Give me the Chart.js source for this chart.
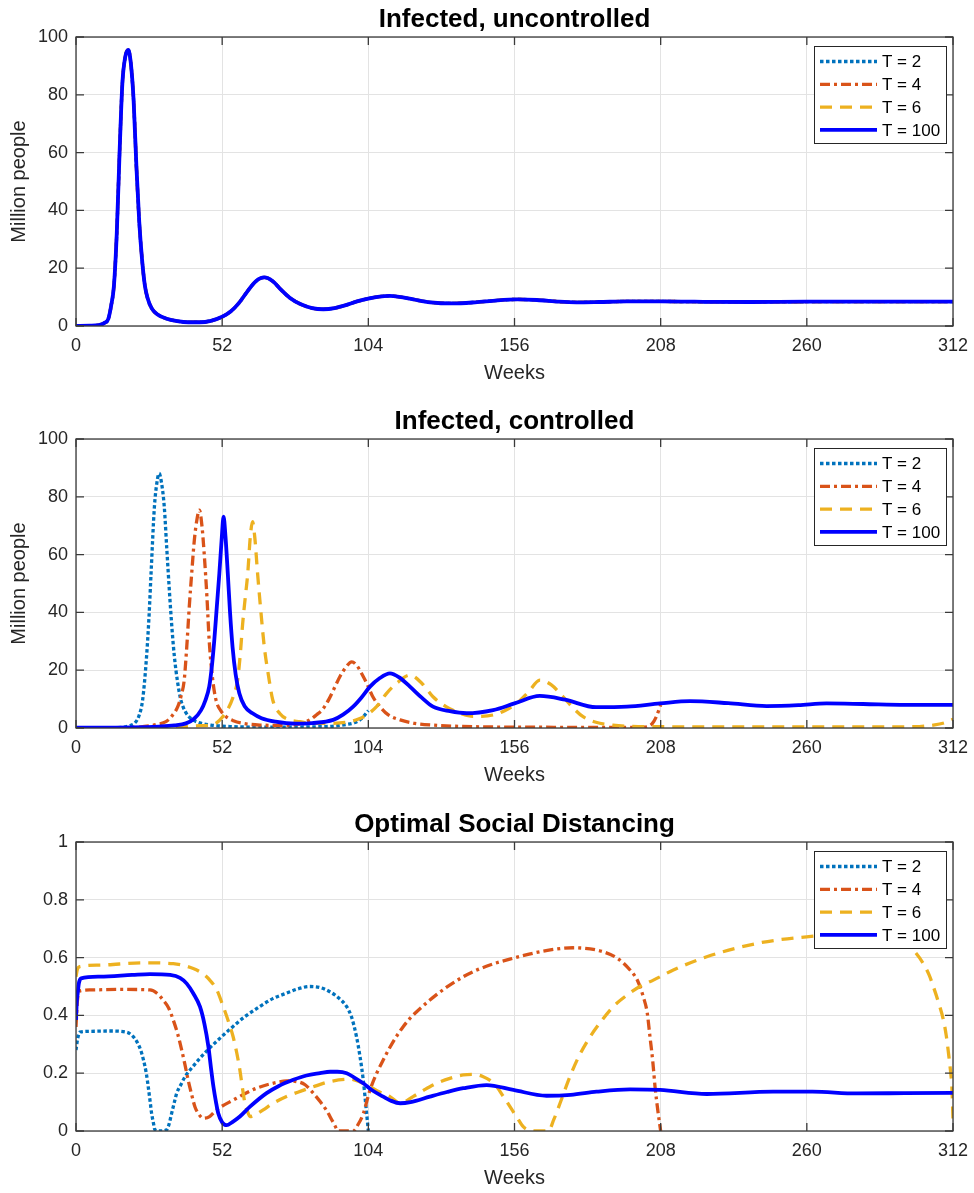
<!DOCTYPE html>
<html>
<head>
<meta charset="utf-8">
<title>Infected and optimal social distancing</title>
<script src="https://cdn.jsdelivr.net/npm/chart.js@4.4.0/dist/chart.umd.min.js"></script>
<style>
  body { margin: 0; background: #fff; }
  canvas { position: absolute; left: 0; }
</style>
</head>
<body>
<canvas id="c1" width="974" height="402" style="top:0px"></canvas>
<canvas id="c2" width="974" height="402" style="top:402px"></canvas>
<canvas id="c3" width="974" height="389" style="top:804px"></canvas>
<script>
// ---- data ----
var seriesLabels = ["T = 2", "T = 4", "T = 6", "T = 100"];
var weekTicks = [0, 52, 104, 156, 208, 260, 312];
var infectedTicks = [0, 20, 40, 60, 80, 100];
var distancingTicks = [0, 0.2, 0.4, 0.6, 0.8, 1];

// uncontrolled epidemic (identical for every T)
var uncWeeks = [0, 5, 8, 10, 11.5, 12.5, 13.5, 14.5, 15.5, 16.5, 17.5, 18.6, 19.5, 20.5, 21.5, 22.5, 23.5, 24.5, 25.5, 27,
  29, 32, 36, 40, 44, 48, 52, 55, 58, 61, 64, 67, 70, 73, 76, 80, 84, 88, 92, 96,
  100, 104, 108, 111.5, 115, 120, 126, 134, 142, 150, 157, 164, 172, 178, 186, 196, 208, 220, 240, 260, 280, 312];
var uncInfected = [0.05, 0.1, 0.3, 1, 2.5, 7, 14, 32, 60, 84, 93, 95.5, 91, 78, 55, 36, 23, 14, 9.5, 6,
  4, 2.6, 1.7, 1.3, 1.3, 1.8, 3.2, 5, 8, 12, 15.5, 16.8, 15.5, 12.5, 9.8, 7.5, 6.2, 5.8, 6.2, 7.2,
  8.5, 9.5, 10.2, 10.4, 10.1, 9.2, 8.2, 7.8, 8.2, 8.9, 9.2, 9.0, 8.4, 8.2, 8.3, 8.5, 8.5, 8.4, 8.3, 8.4, 8.4, 8.4];

// controlled epidemic
var t2Weeks = [0, 10, 16.5, 19, 21, 22.5, 23.7, 25.1, 26, 26.7, 27.9, 28.8, 29.6, 30.4, 31.4, 32.3, 33.2, 34.1, 35, 36.2,
  37.3, 39, 41, 44, 48, 55, 70, 85, 92, 96, 99, 101.5, 104];
var t2Infected = [0, 0.05, 0.2, 0.8, 1.8, 4.5, 9.7, 24.7, 39, 53.5, 76.6, 85, 88.1, 85, 76.6, 62, 47.8, 35, 24.7, 15.5,
  9.7, 5.5, 3.2, 1.8, 1, 0.5, 0.3, 0.4, 0.7, 1.2, 1.8, 3.2, 6];

var t4Weeks = [0, 15, 22, 26, 29, 32, 34, 36.2, 37.5, 38.5, 39.4, 40.3, 41.2, 42.1, 43, 43.9, 44.8, 45.7, 46.6, 47.4,
  48.6, 49.8, 51.5, 53.4, 56, 59.3, 66, 72, 76, 79, 81, 83.2, 85.5, 87.8, 90, 92, 94, 96, 98.1, 100,
  101.8, 103.4, 105.5, 108.1, 111, 115.3, 120, 127, 135, 148, 170, 200, 203, 205, 206.5, 208];
var t4Infected = [0, 0.05, 0.3, 0.7, 1.3, 2.2, 4, 7.4, 11.5, 16.6, 28, 42, 54, 65, 72, 75.4, 70, 59, 45, 30,
  17, 9.7, 6, 3.9, 2.5, 1.6, 1, 0.9, 1, 1.3, 1.9, 2.8, 4.5, 6.5, 10, 14, 18, 21, 22.9, 21.5,
  18.5, 15.5, 11, 7.4, 4.6, 2.8, 1.7, 1, 0.6, 0.35, 0.25, 0.2, 0.4, 1.5, 4, 8];

var t6Weeks = [0, 30, 39, 44, 47.4, 50, 52.2, 54, 55.8, 57.5, 58.4, 59.3, 60.2, 61.1, 62, 62.8, 63.6, 64.6, 65.8, 67,
  68.5, 70, 72.5, 75.9, 79.7, 84, 90, 97.5, 100.5, 103.4, 107, 110.5, 114.5, 118.8, 123, 127, 131.5, 136.6, 141.3, 148.4,
  152.5, 156.8, 161, 165, 169, 173.3, 177, 180.4, 185, 191, 200, 230, 260, 290, 300, 305, 309, 312];
var t6Infected = [0, 0, 0.5, 0.8, 1, 1.8, 3.9, 6.5, 10.5, 16.6, 25, 36.2, 45, 53.5, 66, 71.4, 66, 53.5, 40, 28,
  18, 9.7, 5, 2.8, 2.2, 1.6, 1.6, 2.2, 3.1, 4.5, 7.5, 12, 15.8, 18.3, 15.5, 10.8, 7.5, 5.1, 4, 4.5,
  6, 8.5, 12.5, 16.6, 15, 10.8, 6.8, 3.9, 2, 1, 0.5, 0.4, 0.4, 0.4, 0.5, 1, 1.8, 3];

var t100Weeks = [0, 20, 29.6, 35, 39.1, 42, 44.5, 46, 47.4, 48.3, 49.2, 50.1, 51, 51.8, 52.5, 53.2, 54, 54.8, 55.7, 56.8,
  58.1, 60, 62.8, 66, 71, 78, 84, 91.5, 95, 98.6, 101.5, 104.6, 108, 111.7, 115, 118.8, 123, 127, 133, 139,
  148.4, 156, 165, 174, 185, 196, 207.8, 218.4, 232, 245.7, 257, 267, 280, 295, 312];
var t100Infected = [0.1, 0.2, 0.5, 0.9, 1.6, 3.2, 6.2, 9.5, 14.3, 21, 30.4, 42, 53.5, 65, 73.1, 66, 53.5, 40, 28, 18.5,
  12, 7.5, 5.1, 3.4, 2.2, 1.5, 1.7, 2.8, 4.6, 7.4, 10.5, 14.3, 17.2, 18.9, 17.5, 14.3, 10.5, 7.4, 5.8, 5.1,
  6.2, 8.5, 11.1, 9.8, 7.2, 7.4, 8.5, 9.3, 8.6, 7.6, 7.9, 8.5, 8.3, 8.0, 8.0];

// optimal social distancing
var d2Weeks = [0, 0.6, 1.4, 5, 12, 18, 20, 21.6, 23, 24, 25, 25.7, 26.4, 26.9, 27.5, 28.1, 30, 32.2, 33, 34,
  35, 35.8, 37.3, 38.8, 41.5, 44.1, 47, 50, 55.9, 60, 65.4, 70, 74.9, 79, 83.2, 87, 90.3, 93.5, 96.3, 98,
  99.8, 101, 102.2, 103.2, 104];
var d2Control = [0.28, 0.32, 0.342, 0.345, 0.346, 0.342, 0.33, 0.31, 0.28, 0.246, 0.2, 0.153, 0.1, 0.061, 0.03, 0.004, 0, 0.004, 0.02, 0.06,
  0.1, 0.13, 0.16, 0.188, 0.222, 0.252, 0.282, 0.31, 0.362, 0.395, 0.431, 0.458, 0.477, 0.492, 0.5, 0.496, 0.482, 0.46, 0.43, 0.395,
  0.326, 0.26, 0.176, 0.08, 0];

var d4Weeks = [0, 0.5, 1.5, 5, 15, 26.3, 29, 31, 33, 34.6, 36.2, 37.6, 38.8, 39.9, 41.1, 42.3, 43.7, 45.3, 47.5, 50,
  55.9, 64.2, 71.3, 75, 78.5, 81.5, 84.4, 87, 89.2, 91.5, 93.5, 98.6, 100.5, 102.2, 104.6, 109.3, 116.4, 125.9, 137.8, 146,
  155.6, 166, 176.9, 187.6, 193, 197.1, 199.8, 201.8, 203.2, 204.2, 205.2, 206, 207, 208];
var d4Control = [0.36, 0.45, 0.485, 0.488, 0.49, 0.488, 0.475, 0.453, 0.425, 0.384, 0.335, 0.28, 0.228, 0.176, 0.128, 0.084, 0.058, 0.044, 0.05, 0.073,
  0.107, 0.148, 0.168, 0.173, 0.171, 0.16, 0.131, 0.1, 0.07, 0.03, 0, 0, 0.025, 0.06, 0.142, 0.246, 0.361, 0.453, 0.534, 0.57,
  0.598, 0.622, 0.634, 0.62, 0.595, 0.557, 0.52, 0.465, 0.41, 0.326, 0.24, 0.153, 0.07, 0];

var d6Weeks = [0, 0.5, 1.4, 8.5, 24, 34.6, 41.7, 45, 47.6, 50, 52.4, 54.2, 55.9, 57.2, 58.3, 59.2, 60.1, 61, 61.9, 63.5,
  66.6, 70, 74.9, 80, 84.4, 90.3, 97.5, 101, 104.6, 108, 111.7, 115.3, 119.9, 124, 128.3, 133, 137.8, 141.5, 144.9, 147.5,
  149.7, 152, 154.4, 156.8, 159.1, 161, 163.9, 168, 170, 172.2, 175.7, 179, 182.9, 187, 191.1, 196, 200.6, 205.4, 212.5, 224.4,
  242.2, 259.9, 275, 287, 294.3, 298, 301.4, 303.5, 305, 307, 308.6, 309.6, 310.4, 311.2, 311.6, 312];
var d6Control = [0.534, 0.56, 0.569, 0.574, 0.582, 0.579, 0.562, 0.545, 0.522, 0.49, 0.43, 0.38, 0.326, 0.27, 0.211, 0.15, 0.096, 0.068, 0.05, 0.055,
  0.073, 0.095, 0.119, 0.138, 0.153, 0.171, 0.179, 0.17, 0.153, 0.135, 0.119, 0.096, 0.119, 0.143, 0.165, 0.182, 0.194, 0.196, 0.188, 0.174,
  0.153, 0.12, 0.084, 0.048, 0.015, 0.003, 0, 0, 0.04, 0.096, 0.188, 0.26, 0.326, 0.382, 0.43, 0.47, 0.5, 0.522, 0.557, 0.603,
  0.649, 0.672, 0.68, 0.675, 0.655, 0.625, 0.58, 0.54, 0.5, 0.44, 0.384, 0.33, 0.269, 0.2, 0.153, 0.04];

var d100Weeks = [0, 0.3, 0.6, 1, 1.8, 8.5, 20, 26.3, 33.5, 37, 39.4, 41.8, 44.1, 45.7, 47.1, 48, 48.9, 49.8, 50.6, 52,
  53.6, 55.5, 58.3, 62, 67.8, 72, 77.3, 82, 86.8, 90.4, 93, 96.3, 99, 102.2, 105.5, 109.3, 112, 115.3, 119, 125.9,
  132, 137.8, 146.1, 155.6, 167.4, 176, 185.2, 197.1, 207.8, 224.4, 248, 262, 277.7, 295, 312];
var d100Control = [0.384, 0.45, 0.476, 0.51, 0.528, 0.534, 0.54, 0.543, 0.54, 0.53, 0.51, 0.475, 0.43, 0.37, 0.292, 0.22, 0.153, 0.1, 0.061, 0.03,
  0.02, 0.03, 0.05, 0.085, 0.131, 0.155, 0.177, 0.192, 0.2, 0.205, 0.205, 0.2, 0.185, 0.165, 0.14, 0.119, 0.105, 0.096, 0.1, 0.119,
  0.135, 0.148, 0.159, 0.142, 0.122, 0.125, 0.136, 0.144, 0.142, 0.128, 0.136, 0.136, 0.13, 0.131, 0.132];

// ---- styling ----
var FONT = '"Liberation Sans", Arial, Helvetica, sans-serif';
Chart.defaults.font.family = FONT;
Chart.defaults.color = '#262626';

var lineStyles = [
  { color: '#0072BD', width: 3.3, dash: [3.5, 2.5] },
  { color: '#D95319', width: 3.3, dash: [10, 4, 3, 4] },
  { color: '#EDB120', width: 3.3, dash: [12, 8] },
  { color: '#0000FF', width: 3.8, dash: [] }
];

function pts(weeks, vals) {
  return weeks.map(function (w, i) { return { x: w, y: vals[i] }; });
}

function makeDatasets(pairs) {
  return pairs.map(function (p, i) {
    var s = lineStyles[i];
    return {
      label: seriesLabels[i],
      data: pts(p[0], p[1]),
      borderColor: s.color,
      borderWidth: s.width,
      borderDash: s.dash,
      pointRadius: 0,
      fill: false,
      cubicInterpolationMode: 'monotone',
      order: pairs.length - 1 - i   // T = 100 drawn on top
    };
  });
}

// axes box with inward ticks, like the original figure
var axesBox = {
  id: 'axesBox',
  afterDatasetsDraw: function (chart) {
    var a = chart.chartArea, ctx = chart.ctx;
    var xs = chart.scales.x, ys = chart.scales.y;
    var L = 8;
    ctx.save();
    ctx.strokeStyle = '#3a3a3a';
    ctx.lineWidth = 1.3;
    ctx.beginPath();
    xs.ticks.forEach(function (t) {
      var px = xs.getPixelForValue(t.value);
      ctx.moveTo(px, a.bottom); ctx.lineTo(px, a.bottom - L);
      ctx.moveTo(px, a.top); ctx.lineTo(px, a.top + L);
    });
    ys.ticks.forEach(function (t) {
      var py = ys.getPixelForValue(t.value);
      ctx.moveTo(a.left, py); ctx.lineTo(a.left + L, py);
      ctx.moveTo(a.right, py); ctx.lineTo(a.right - L, py);
    });
    ctx.stroke();
    ctx.strokeRect(a.left, a.top, a.right - a.left, a.bottom - a.top);
    ctx.restore();
  }
};

// boxed legend inside the top-right corner of the axes
var boxLegend = {
  id: 'boxLegend',
  afterDraw: function (chart) {
    var a = chart.chartArea, ctx = chart.ctx;
    var w = 133, h = 98;
    var x0 = a.right - 6 - w, y0 = a.top + 9;
    ctx.save();
    ctx.fillStyle = '#fff';
    ctx.fillRect(x0, y0, w, h);
    ctx.strokeStyle = '#262626';
    ctx.lineWidth = 1;
    ctx.strokeRect(x0 + 0.5, y0 + 0.5, w - 1, h - 1);
    chart.data.datasets.forEach(function (ds, i) {
      var cy = y0 + 15.5 + i * 22.8;
      ctx.beginPath();
      ctx.setLineDash(ds.borderDash);
      ctx.strokeStyle = ds.borderColor;
      ctx.lineWidth = ds.borderWidth;
      ctx.moveTo(x0 + 6, cy);
      ctx.lineTo(x0 + 63, cy);
      ctx.stroke();
      ctx.setLineDash([]);
      ctx.fillStyle = '#000';
      ctx.font = '17px ' + FONT;
      ctx.textBaseline = 'middle';
      ctx.textAlign = 'left';
      ctx.fillText(ds.label, x0 + 68, cy + 1);
    });
    ctx.restore();
  }
};

// bold title centred over the axes
var panelTitle = {
  id: 'panelTitle',
  afterDraw: function (chart, args, opts) {
    var a = chart.chartArea, ctx = chart.ctx;
    ctx.save();
    ctx.font = 'bold 26px ' + FONT;
    ctx.fillStyle = '#000';
    ctx.textAlign = 'center';
    ctx.textBaseline = 'alphabetic';
    ctx.fillText(opts.text, (a.left + a.right) / 2, a.top - 10);
    ctx.restore();
  }
};

function makeChart(id, title, datasets, yTicks, yLabel, pad) {
  return new Chart(document.getElementById(id), {
    type: 'line',
    data: { datasets: datasets },
    options: {
      responsive: false,
      animation: false,
      layout: { padding: pad },
      plugins: {
        legend: { display: false },
        tooltip: { enabled: false },
        panelTitle: { text: title }
      },
      scales: {
        x: {
          type: 'linear',
          min: 0, max: 312,
          afterBuildTicks: function (s) { s.ticks = weekTicks.map(function (v) { return { value: v }; }); },
          afterFit: function (s) { s.height = 59; s.paddingLeft = 0; s.paddingRight = 0; },
          grid: { color: '#e3e3e3', drawTicks: false },
          border: { display: false },
          ticks: { font: { size: 18 }, padding: 9, maxRotation: 0, autoSkip: false,
                   callback: function (v) { return String(v); } },
          title: { display: true, text: 'Weeks', font: { size: 20 }, padding: { top: 0, bottom: 0 } }
        },
        y: {
          min: yTicks[0], max: yTicks[yTicks.length - 1],
          afterBuildTicks: function (s) { s.ticks = yTicks.map(function (v) { return { value: v }; }); },
          afterFit: function (s) { s.width = 76; s.paddingTop = 0; s.paddingBottom = 0; },
          grid: { color: '#e3e3e3', drawTicks: false },
          border: { display: false },
          ticks: { font: { size: 18 }, padding: 8, callback: function (v) { return String(v); } },
          title: { display: !!yLabel, text: yLabel || '', font: { size: 20 }, padding: { top: 7, bottom: 0 } }
        }
      }
    },
    plugins: [axesBox, boxLegend, panelTitle]
  });
}

makeChart('c1', 'Infected, uncontrolled',
  makeDatasets([[uncWeeks, uncInfected], [uncWeeks, uncInfected], [uncWeeks, uncInfected], [uncWeeks, uncInfected]]),
  infectedTicks, 'Million people', { top: 37, right: 21, bottom: 17, left: 0 });

makeChart('c2', 'Infected, controlled',
  makeDatasets([[t2Weeks, t2Infected], [t4Weeks, t4Infected], [t6Weeks, t6Infected], [t100Weeks, t100Infected]]),
  infectedTicks, 'Million people', { top: 37, right: 21, bottom: 17, left: 0 });

makeChart('c3', 'Optimal Social Distancing',
  makeDatasets([[d2Weeks, d2Control], [d4Weeks, d4Control], [d6Weeks, d6Control], [d100Weeks, d100Control]]),
  distancingTicks, null, { top: 38, right: 21, bottom: 3, left: 0 });
</script>
</body>
</html>
